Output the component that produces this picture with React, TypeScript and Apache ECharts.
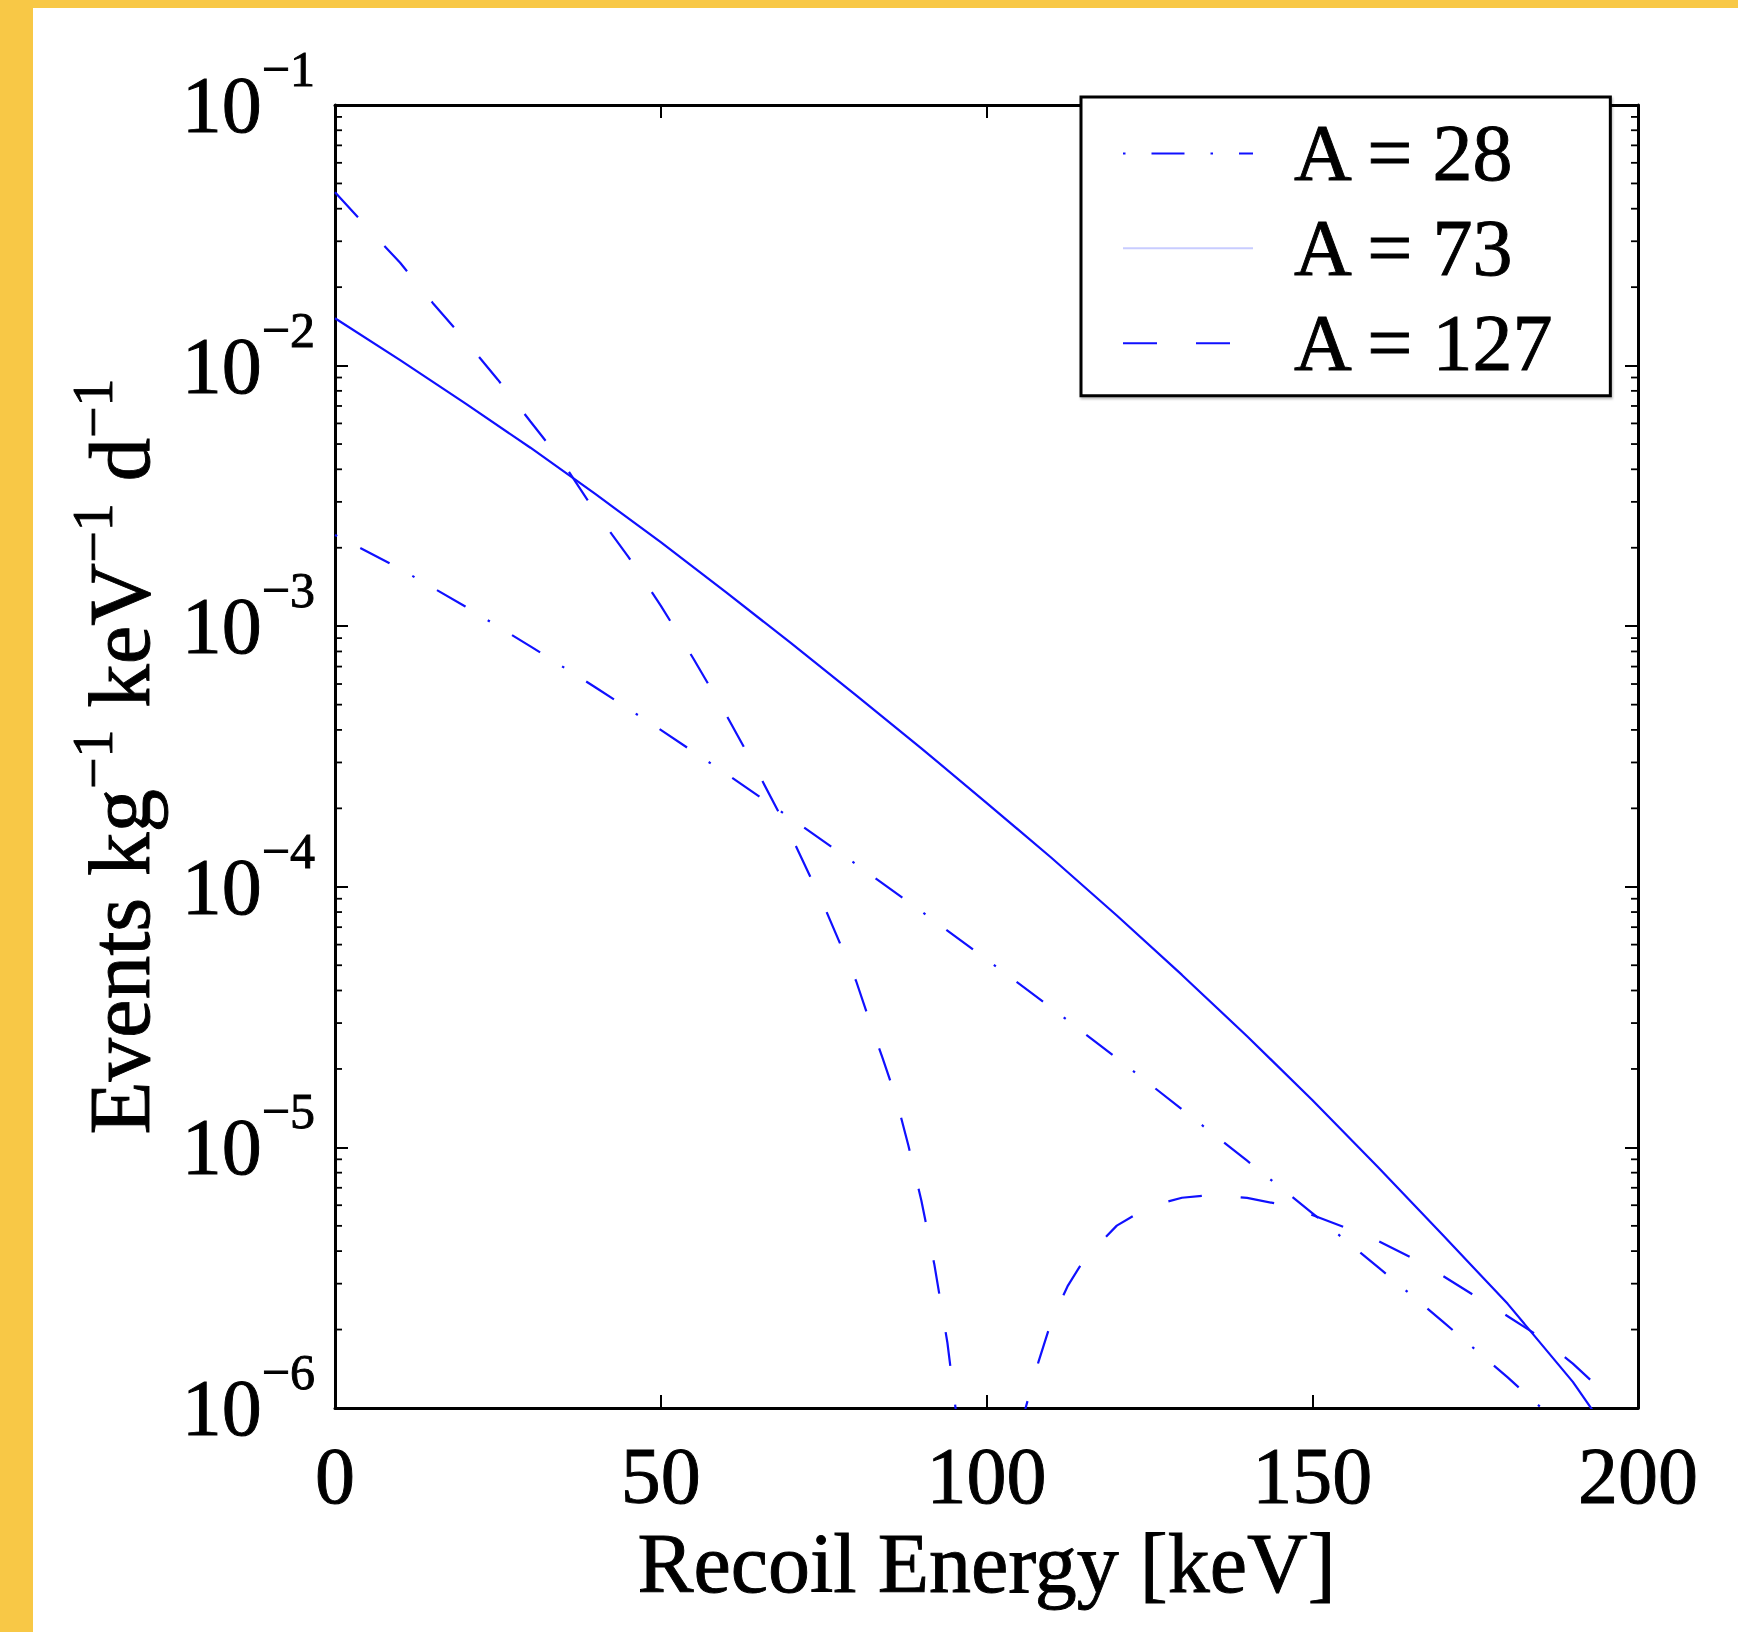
import React, { useEffect, useRef } from 'react';
import * as echarts from 'echarts';

// ---- data ----
const seriesNames = ['A = 28', 'A = 73', 'A = 127'];

const energyA28 = [0, 10, 20, 30, 40, 50, 60, 70, 80, 90, 100, 110, 120, 130, 140, 150, 160, 170, 180, 190];
const rateA28 = [2.24e-3, 1.66e-3, 1.19e-3, 8.37e-4, 5.82e-4, 4.0e-4, 2.72e-4, 1.83e-4, 1.22e-4, 8.05e-5,
  5.27e-5, 3.42e-5, 2.2e-5, 1.4e-5, 8.89e-6, 5.6e-6, 3.49e-6, 2.15e-6, 1.31e-6, 7.78e-7];

const energyA73 = [0, 10, 20, 30, 40, 50, 60, 70, 80, 90, 100, 110, 120, 130, 140, 150, 160, 170, 180, 190, 195];
const rateA73 = [1.52e-2, 1.05e-2, 7.16e-3, 4.84e-3, 3.21e-3, 2.1e-3, 1.35e-3, 8.61e-4, 5.43e-4, 3.4e-4,
  2.1e-4, 1.29e-4, 7.76e-5, 4.59e-5, 2.67e-5, 1.52e-5, 8.45e-6, 4.62e-6, 2.51e-6, 1.26e-6, 8.32e-7];

const energyA127 = [0, 5, 10, 15, 20, 25, 30, 35, 40, 45, 50, 55, 60, 65, 70, 75, 80,
  82, 84, 86, 88, 90, 92, 94, 96, 98, 100, 102, 104, 106, 108, 110, 112.5, 115,
  120, 125, 130, 135, 140, 145, 150, 155, 160, 165, 170, 175, 180, 185, 190, 194.4];
const rateA127 = [4.63e-2, 3.38e-2, 2.48e-2, 1.74e-2, 1.25e-2, 8.83e-3, 6.1e-3, 4.23e-3, 2.74e-3, 1.85e-3,
  1.2e-3, 7.52e-4, 4.59e-4, 2.72e-4, 1.57e-4, 8.51e-5, 4.34e-5,
  3.08e-5, 2.22e-5, 1.58e-5, 1.02e-5, 6.25e-6, 3.55e-6, 1.78e-6, 7.08e-7, 2.0e-7, 1.0e-8, 1.26e-7, 4.47e-7,
  1.0e-6, 1.51e-6, 2.17e-6, 2.95e-6, 3.72e-6,
  5.01e-6, 5.94e-6, 6.41e-6, 6.58e-6, 6.4e-6, 6.05e-6, 5.5e-6, 4.93e-6, 4.39e-6, 3.8e-6, 3.22e-6, 2.69e-6,
  2.25e-6, 1.87e-6, 1.48e-6, 1.17e-6];

const xMin = 0;
const xMax = 200;
const xInterval = 50;
const yMin = 1e-6;
const yMax = 1e-1;
const minorDecades = [-6, -5, -4, -3, -2];
const minorMultipliers = [2, 3, 4, 5, 6, 7, 8, 9];

const FONT = '"Liberation Serif", "Times New Roman", "DejaVu Serif", serif';
const BLUE = '#1010ff';
const YELLOW = '#F8C846';
const INK = { color: '#000', textBorderColor: '#000', textBorderWidth: 0.9 };

const zip = (xs: number[], ys: number[]) => xs.map((x, i) => [x, ys[i]]);

const minorTickValues: number[] = [];
minorDecades.forEach((d) => minorMultipliers.forEach((m) => minorTickValues.push(m * Math.pow(10, d))));

export default function App() {
  const ref = useRef<HTMLDivElement>(null);
  useEffect(() => {
    document.body.style.margin = '0';
    if (!ref.current) return;
    const chart = echarts.init(ref.current, undefined, { renderer: 'svg' });
    const axisLineStyle = { color: '#000', width: 3 };
    const tickStyle = { color: '#000', width: 2 };
    const option: any = {
      animation: false,
      backgroundColor: '#ffffff',
      graphic: [
        { type: 'rect', silent: true, shape: { x: 0, y: 0, width: 1738, height: 8 }, style: { fill: YELLOW } },
        { type: 'rect', silent: true, shape: { x: 0, y: 0, width: 33, height: 1632 }, style: { fill: YELLOW } },
      ],
      grid: { left: 335, top: 105, width: 1303, height: 1303, containLabel: false, outerBoundsMode: 'none' },
      legend: {
        show: true,
        orient: 'vertical',
        left: 1081,
        top: 97,
        selectedMode: false,
        data: [
          { name: seriesNames[0] },
          { name: seriesNames[1], lineStyle: { color: '#c8ccff' } },
          { name: seriesNames[2] },
        ],
        itemWidth: 130,
        itemHeight: 14,
        itemGap: 14,
        padding: [16, 53, 12, 41],
        backgroundColor: '#ffffff',
        borderColor: '#000',
        borderWidth: 3,
        shadowColor: 'rgba(0,0,0,0.25)',
        shadowBlur: 2,
        shadowOffsetX: 1,
        shadowOffsetY: 2,
        itemStyle: { opacity: 0 },
        textStyle: { fontSize: 80, fontFamily: FONT, ...INK, padding: [0, 0, 0, 36], width: 263, overflow: 'none' },
        z: 10,
      },
      xAxis: [
        {
          type: 'value', min: xMin, max: xMax, interval: xInterval, position: 'bottom',
          axisLine: { show: true, onZero: false, lineStyle: axisLineStyle },
          axisTick: { show: true, inside: true, length: 13, lineStyle: tickStyle },
          axisLabel: { show: true, margin: 28, fontSize: 80, fontFamily: FONT, ...INK },
          splitLine: { show: false },
          name: 'Recoil Energy [keV]', nameLocation: 'middle', nameGap: 112,
          nameTextStyle: { fontSize: 84, fontFamily: FONT, ...INK },
        },
        {
          type: 'value', min: xMin, max: xMax, interval: xInterval, position: 'top',
          axisLine: { show: true, onZero: false, lineStyle: axisLineStyle },
          axisTick: { show: true, inside: true, length: 13, lineStyle: tickStyle },
          axisLabel: { show: false },
          splitLine: { show: false },
        },
      ],
      yAxis: [
        {
          type: 'log', logBase: 10, min: yMin, max: yMax, position: 'left',
          axisLine: { show: true, onZero: false, lineStyle: axisLineStyle },
          axisTick: { show: true, inside: true, length: 13, lineStyle: tickStyle },
          axisLabel: {
            show: true, margin: 20,
            formatter: (v: number) => {
              const e = Math.round(Math.log10(v));
              return '{b|10}{s|' + (e < 0 ? '\u2212' + (-e) : String(e)) + '}';
            },
            rich: {
              b: { fontSize: 80, fontFamily: FONT, ...INK, verticalAlign: 'bottom', padding: [0, 0, 21, 0] },
              s: { fontSize: 50, fontFamily: FONT, ...INK, verticalAlign: 'bottom', padding: [0, 0, 72, 0] },
            },
          },
          splitLine: { show: false },
          name: '{n|Events kg}{s|\u22121}{n| keV}{s|\u22121}{n| d}{s|\u22121}',
          nameLocation: 'middle', nameGap: 172,
          nameTextStyle: {
            rich: {
              n: { fontSize: 87, fontFamily: FONT, ...INK, verticalAlign: 'bottom', padding: [0, 0, 0, 0] },
              s: { fontSize: 56, fontFamily: FONT, ...INK, verticalAlign: 'bottom', padding: [0, 0, 42, 0] },
            },
          },
        },
        {
          type: 'log', logBase: 10, min: yMin, max: yMax, position: 'right',
          axisLine: { show: true, onZero: false, lineStyle: axisLineStyle },
          axisTick: { show: true, inside: true, length: 13, lineStyle: tickStyle },
          axisLabel: { show: false },
          splitLine: { show: false },
        },
      ],
      series: [
        {
          name: seriesNames[0], type: 'line', xAxisIndex: 0, yAxisIndex: 0,
          data: zip(energyA28, rateA28), symbol: 'none', showSymbol: false, smooth: false,
          lineStyle: { color: BLUE, width: 2.2, type: [33, 26, 2.5, 26], dashOffset: 59 },
          itemStyle: { color: BLUE }, z: 3,
        },
        {
          name: seriesNames[1], type: 'line', xAxisIndex: 0, yAxisIndex: 0,
          data: zip(energyA73, rateA73), symbol: 'none', showSymbol: false, smooth: false,
          lineStyle: { color: BLUE, width: 2.2, type: 'solid' },
          itemStyle: { color: BLUE }, z: 3,
        },
        {
          name: seriesNames[2], type: 'line', xAxisIndex: 0, yAxisIndex: 0,
          data: zip(energyA127, rateA127), symbol: 'none', showSymbol: false, smooth: false,
          lineStyle: { color: BLUE, width: 2.2, type: [34, 39] },
          itemStyle: { color: BLUE }, z: 3,
        },
        {
          name: 'minor-ticks', type: 'custom', coordinateSystem: 'cartesian2d', xAxisIndex: 0, yAxisIndex: 0,
          silent: true, clip: false, z: 5,
          data: minorTickValues.map((v) => [xMin, v]),
          renderItem: (params: any, api: any) => {
            const y = api.coord([xMin, api.value(1)])[1];
            const cs = params.coordSys;
            return {
              type: 'group',
              children: [
                { type: 'line', shape: { x1: cs.x, y1: y, x2: cs.x + 7, y2: y }, style: { stroke: '#000', lineWidth: 1.8 } },
                { type: 'line', shape: { x1: cs.x + cs.width, y1: y, x2: cs.x + cs.width - 7, y2: y }, style: { stroke: '#000', lineWidth: 1.8 } },
              ],
            };
          },
        },
      ],
    };
    chart.setOption(option);
    return () => chart.dispose();
  }, []);
  return <div ref={ref} style={{ width: 1738, height: 1632 }} />;
}
